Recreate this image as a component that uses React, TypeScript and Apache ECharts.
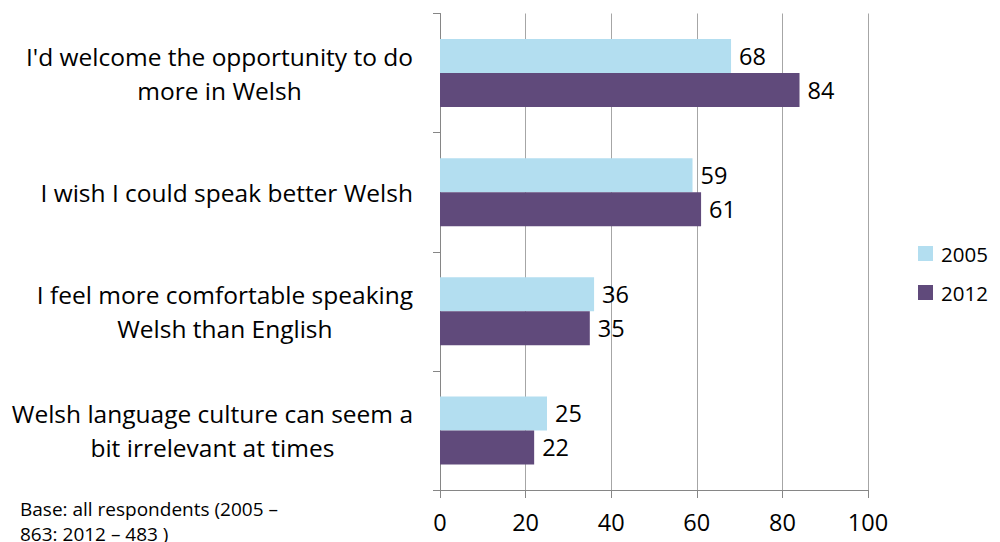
import React, { useEffect, useRef } from "react";
import * as echarts from "echarts";

const categories = [
  "I'd welcome the opportunity to do\nmore in Welsh",
  "I wish I could speak better Welsh",
  "I feel more comfortable speaking\nWelsh than English",
  "Welsh language culture can seem a\nbit irrelevant at times",
];
const seriesNames = ["2005", "2012"];
const values2005 = [68, 59, 36, 25];
const values2012 = [84, 61, 35, 22];
const xTicks = { min: 0, max: 100, interval: 20 };
const footnote = "Base: all respondents (2005 –\n863: 2012 – 483 )";

const FONT = "'Open Sans', sans-serif";

export default function App() {
  const ref = useRef<HTMLDivElement>(null);
  useEffect(() => {
    if (!ref.current) return;
    const chart = echarts.init(ref.current, undefined, { renderer: "svg" });
    const labelStyle = {
      show: true,
      position: "right",
      distance: 8,
      color: "#000",
      fontSize: 23.5,
      fontFamily: FONT,
    };
    chart.setOption({
      animation: false,
      backgroundColor: "#fff",
      textStyle: { fontFamily: FONT },
      grid: { left: 440, right: 132, top: 13.5, bottom: 52, containLabel: false },
      legend: {
        orient: "vertical",
        left: 918,
        top: 243,
        padding: 0,
        itemWidth: 15,
        itemHeight: 15,
        itemGap: 18,
        icon: "rect",
        data: seriesNames,
        textStyle: { fontSize: 20.5, fontFamily: FONT, color: "#000", padding: [0, 0, 0, 3] },
      },
      xAxis: {
        type: "value",
        min: xTicks.min,
        max: xTicks.max,
        interval: xTicks.interval,
        axisLine: { show: true, lineStyle: { color: "#868686", width: 1 } },
        axisTick: { show: true, length: 8, lineStyle: { color: "#868686" } },
        axisLabel: { fontSize: 23.5, fontFamily: FONT, color: "#000", margin: 20 },
        splitLine: { show: true, lineStyle: { color: "#A6A6A6", width: 1 } },
      },
      yAxis: {
        type: "category",
        inverse: true,
        data: categories,
        axisLine: { show: true, lineStyle: { color: "#868686", width: 1 } },
        axisTick: { show: true, length: 7, lineStyle: { color: "#868686" } },
        axisLabel: {
          margin: 27,
          align: "right",
          fontSize: 24.5,
          fontFamily: FONT,
          color: "#000",
          formatter: (v: string) => v.split("\n").map((l) => `{c|${l}}`).join("\n"),
          rich: {
            c: { align: "center", fontSize: 24.5, fontFamily: FONT, color: "#000", lineHeight: 34 },
          },
        },
        splitLine: { show: false },
      },
      series: [
        {
          name: seriesNames[0],
          type: "bar",
          data: values2005,
          barWidth: 34,
          barGap: "0%",
          itemStyle: { color: "#B3DEF0" },
          label: labelStyle,
        },
        {
          name: seriesNames[1],
          type: "bar",
          data: values2012,
          barWidth: 34,
          barGap: "0%",
          itemStyle: { color: "#604A7B" },
          label: labelStyle,
        },
      ],
      graphic: [
        {
          type: "text",
          left: 20,
          top: 496,
          style: {
            text: footnote,
            fontSize: 19,
            fontFamily: FONT,
            fill: "#000",
            lineHeight: 25,
          },
        },
      ],
    });
    return () => chart.dispose();
  }, []);
  return (
    <div
      ref={ref}
      style={{ position: "fixed", left: 0, top: 0, width: 1000, height: 542 }}
    />
  );
}
